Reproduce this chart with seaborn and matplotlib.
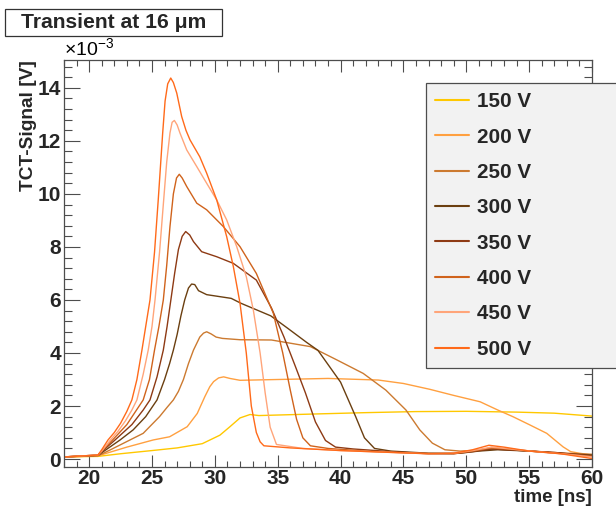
import numpy as np
import pandas as pd
import matplotlib
matplotlib.use("Agg")
import matplotlib.pyplot as plt
import seaborn as sns
from matplotlib.patches import Rectangle
from matplotlib.ticker import MultipleLocator

# ---------------- data (signal in units of 1e-3 V, time in ns) ----------------
voltages = ["150 V", "200 V", "250 V", "300 V", "350 V", "400 V", "450 V", "500 V"]
colors = ["#FFC800", "#FFA040", "#CC7A30", "#6B3F10", "#8E3A14", "#D0631C", "#FFA57A", "#FF6A1A"]

t_150 = [18.0, 20.7, 22.5, 25.0, 27.0, 29.0, 30.4, 31.2, 32.0, 32.8, 33.5, 35.0, 38.0, 42.0, 46.0, 50.0, 54.0, 57.0, 60.0]
v_150 = [0.08, 0.10, 0.20, 0.32, 0.42, 0.58, 0.90, 1.22, 1.55, 1.68, 1.64, 1.66, 1.70, 1.75, 1.79, 1.80, 1.77, 1.73, 1.62]

t_200 = [18.0, 20.7, 21.6, 23.0, 25.1, 26.4, 27.8, 28.6, 29.2, 29.6, 29.9, 30.3, 30.7, 31.2, 32.0, 35.0, 39.0, 43.0, 45.0,
         47.1, 49.0, 51.1, 52.5, 53.7, 55.0, 56.4, 57.7, 58.3, 59.0, 60.0]
v_200 = [0.08, 0.12, 0.25, 0.45, 0.72, 0.84, 1.22, 1.72, 2.35, 2.73, 2.92, 3.06, 3.10, 3.04, 2.97, 3.00, 3.04, 2.98, 2.85,
         2.63, 2.40, 2.16, 1.85, 1.60, 1.30, 0.97, 0.46, 0.28, 0.22, 0.15]

t_250 = [18.0, 20.7, 21.7, 23.25, 24.3, 25.6, 26.2, 26.7, 27.1, 27.5, 27.9, 28.3, 28.8, 29.1, 29.35, 29.7, 30.1, 30.6,
         32.0, 34.5, 37.6, 39.7, 41.8, 43.6, 45.2, 46.3, 47.3, 48.3, 49.5, 51.0, 52.5, 55.0, 58.0, 60.0]
v_250 = [0.08, 0.12, 0.35, 0.72, 0.97, 1.60, 1.95, 2.23, 2.55, 3.00, 3.60, 4.11, 4.60, 4.75, 4.80, 4.72, 4.60, 4.55,
         4.50, 4.49, 4.24, 3.74, 3.23, 2.60, 1.85, 1.10, 0.60, 0.35, 0.30, 0.33, 0.38, 0.30, 0.22, 0.18]

t_300 = [18.0, 20.7, 22.46, 23.5, 24.5, 25.4, 26.0, 26.4, 26.7, 27.0, 27.3, 27.6, 27.9, 28.15, 28.4, 28.7, 29.35, 31.3,
         32.1, 34.45, 35.8, 37.3, 38.2, 40.0, 41.2, 41.9, 42.7, 44.0, 47.0, 49.5, 51.0, 52.5, 55.0, 58.0, 60.0]
v_300 = [0.08, 0.14, 0.72, 1.10, 1.60, 2.23, 3.00, 3.60, 4.11, 4.70, 5.40, 6.00, 6.45, 6.60, 6.58, 6.35, 6.20, 6.06,
         5.87, 5.40, 4.93, 4.40, 4.10, 2.90, 1.60, 0.80, 0.40, 0.30, 0.22, 0.22, 0.30, 0.35, 0.30, 0.20, 0.15]

t_350 = [18.0, 20.7, 22.06, 23.4, 24.3, 24.84, 25.4, 25.9, 26.2, 26.5, 26.8, 27.1, 27.4, 27.68, 28.0, 28.3, 28.95, 30.15,
         31.47, 33.3, 34.5, 35.5, 36.4, 37.2, 38.0, 38.8, 39.6, 41.0, 44.0, 47.0, 49.0, 50.5, 52.0, 54.0, 57.0, 60.0]
v_350 = [0.08, 0.15, 0.72, 1.30, 1.85, 2.23, 3.10, 4.11, 5.00, 6.00, 7.00, 7.90, 8.40, 8.58, 8.45, 8.20, 7.82, 7.63,
         7.38, 6.75, 5.70, 4.60, 3.50, 2.50, 1.40, 0.70, 0.45, 0.38, 0.28, 0.20, 0.20, 0.28, 0.38, 0.33, 0.25, 0.12]

t_400 = [18.0, 20.7, 21.87, 23.0, 24.3, 24.8, 25.2, 25.55, 25.9, 26.17, 26.43, 26.7, 26.95, 27.17, 27.4, 27.76, 28.56,
         29.35, 30.67, 32.0, 33.3, 34.65, 35.4, 36.0, 36.5, 37.0, 37.6, 39.0, 42.0, 46.0, 49.0, 50.5, 52.0, 54.0, 56.0, 60.0]
v_400 = [0.08, 0.15, 0.72, 1.30, 2.23, 3.00, 4.11, 5.00, 6.00, 7.30, 8.77, 10.00, 10.60, 10.74, 10.60, 10.28, 9.65,
         9.40, 8.77, 8.01, 7.00, 5.50, 4.00, 2.60, 1.50, 0.80, 0.50, 0.40, 0.30, 0.22, 0.20, 0.30, 0.42, 0.35, 0.27, 0.10]

t_450 = [18.0, 20.7, 21.0, 21.7, 22.3, 22.9, 23.4, 23.8, 24.3, 24.7, 25.0, 25.24, 25.6, 25.9, 26.17, 26.43, 26.6, 26.78,
         27.0, 27.23, 27.76, 28.56, 29.35, 30.15, 30.94, 31.74, 32.5, 33.06, 33.6, 34.0, 34.4, 34.9, 37.0, 40.0, 44.0,
         47.0, 49.0, 50.5, 52.0, 53.5, 55.5, 58.0, 60.0]
v_450 = [0.08, 0.15, 0.30, 0.72, 1.05, 1.45, 1.85, 2.23, 3.20, 4.11, 5.00, 6.00, 7.80, 9.60, 11.20, 12.30, 12.70, 12.77,
         12.60, 12.29, 11.66, 11.03, 10.40, 9.77, 9.02, 8.01, 6.88, 5.62, 4.00, 2.50, 1.20, 0.55, 0.40, 0.32, 0.25,
         0.20, 0.22, 0.32, 0.45, 0.38, 0.28, 0.18, 0.08]

t_500 = [18.0, 20.7, 21.0, 21.5, 22.0, 22.5, 23.0, 23.4, 23.8, 24.2, 24.5, 24.84, 25.2, 25.5, 25.85, 26.04, 26.25, 26.49,
         26.7, 26.97, 27.36, 27.7, 28.02, 28.8, 29.35, 30.15, 30.94, 31.47, 32.0, 32.5, 32.9, 33.3, 33.6, 33.9, 36.0,
         40.0, 44.0, 47.0, 49.0, 50.5, 51.8, 53.0, 55.0, 57.5, 60.0]
v_500 = [0.08, 0.15, 0.35, 0.72, 1.00, 1.35, 1.80, 2.23, 3.00, 4.11, 5.00, 6.00, 7.80, 9.80, 12.30, 13.50, 14.15, 14.37,
         14.20, 13.80, 12.92, 12.40, 12.04, 11.40, 10.78, 9.77, 8.39, 7.26, 5.88, 4.00, 2.00, 1.00, 0.65, 0.50, 0.42,
         0.32, 0.25, 0.20, 0.22, 0.35, 0.52, 0.45, 0.30, 0.20, 0.02]

times = [t_150, t_200, t_250, t_300, t_350, t_400, t_450, t_500]
values = [v_150, v_200, v_250, v_300, v_350, v_400, v_450, v_500]

x_ticks = [20, 25, 30, 35, 40, 45, 50, 55, 60]
y_ticks = [0, 2, 4, 6, 8, 10, 12, 14]

# ---------------- style ----------------
sns.set_theme(style="ticks")
plt.rcParams['font.family'] = ['Liberation Sans', 'DejaVu Sans']
plt.rcParams['font.weight'] = 'bold'
plt.rcParams['mathtext.fontset'] = 'custom'
plt.rcParams['mathtext.rm'] = 'Liberation Sans:weight=normal'
plt.rcParams['mathtext.it'] = 'Liberation Sans:weight=normal'
plt.rcParams['mathtext.bf'] = 'Liberation Sans:weight=bold'

frames = [pd.DataFrame({'time': t, 'signal': v, 'voltage': lab})
          for lab, t, v in zip(voltages, times, values)]
df = pd.concat(frames, ignore_index=True)

W, H = 616, 508
fig = plt.figure(figsize=(W / 100, H / 100), dpi=100)
fig.patch.set_facecolor('white')
ax = fig.add_axes([64 / W, 41 / H, 528 / W, 407 / H])

sns.lineplot(data=df, x='time', y='signal', hue='voltage', hue_order=voltages,
             palette=dict(zip(voltages, colors)), estimator=None, sort=False,
             linewidth=1.0, ax=ax)

ax.set_xlim(18, 60)
ax.set_ylim(-0.3, 15.05)
ax.set_xticks(x_ticks)
ax.set_yticks(y_ticks)
ax.xaxis.set_minor_locator(MultipleLocator(1))
ax.yaxis.set_minor_locator(MultipleLocator(0.4))

frame_col = '#4d4d4d'
for s in ax.spines.values():
    s.set_color(frame_col)
    s.set_linewidth(0.9)
ax.tick_params(which='both', direction='in', top=True, right=True, color=frame_col, width=0.8)
ax.tick_params(axis='x', which='major', length=8.6, pad=1.5, labelsize=15)
ax.tick_params(axis='x', which='minor', length=4.3)
ax.tick_params(axis='y', which='major', length=11.5, pad=2.0, labelsize=15)
ax.tick_params(axis='y', which='minor', length=5.8)
for lbl in ax.get_xticklabels() + ax.get_yticklabels():
    lbl.set_fontweight('bold')

ax.set_xlabel('time [ns]', loc='right', fontsize=13.5, fontweight='bold')
ax.xaxis.set_label_coords(1.0, -0.055)
ax.set_ylabel('TCT-Signal [V]', loc='top', fontsize=13.8, fontweight='bold')
ax.yaxis.set_label_coords(-0.051, 1.0)

ax.text(0.0, 1.012, r'$\times10^{-3}$', transform=ax.transAxes, ha='left', va='baseline',
        fontsize=14, fontweight='normal', color='black')

# legend
handles, labels = ax.get_legend_handles_labels()
leg = ax.legend(handles, labels, loc='upper left',
                bbox_to_anchor=(426 / W, (H - 83) / H, 230 / W, 0.0),
                bbox_transform=fig.transFigure, mode='expand', borderaxespad=0,
                fontsize=14.9, frameon=True, fancybox=False, framealpha=1,
                facecolor='#f2f2f2', edgecolor=frame_col, borderpad=0.45,
                labelspacing=0.79, handlelength=1.64, handletextpad=0.39)
leg.get_frame().set_linewidth(0.9)
for txt in leg.get_texts():
    txt.set_fontweight('bold')
for ln in leg.get_lines():
    ln.set_linewidth(1.5)

# title box
fig.patches.append(Rectangle((5 / W, (H - 36) / H), 217 / W, 27 / H, transform=fig.transFigure,
                             facecolor='white', edgecolor='#333333', linewidth=0.9, zorder=5))
fig.text((5 + 217 / 2) / W, (H - 22.5) / H, 'Transient at 16 μm', ha='center', va='center',
         fontsize=15.2, fontweight='bold', zorder=6)

fig.savefig('out.png', dpi=100)
